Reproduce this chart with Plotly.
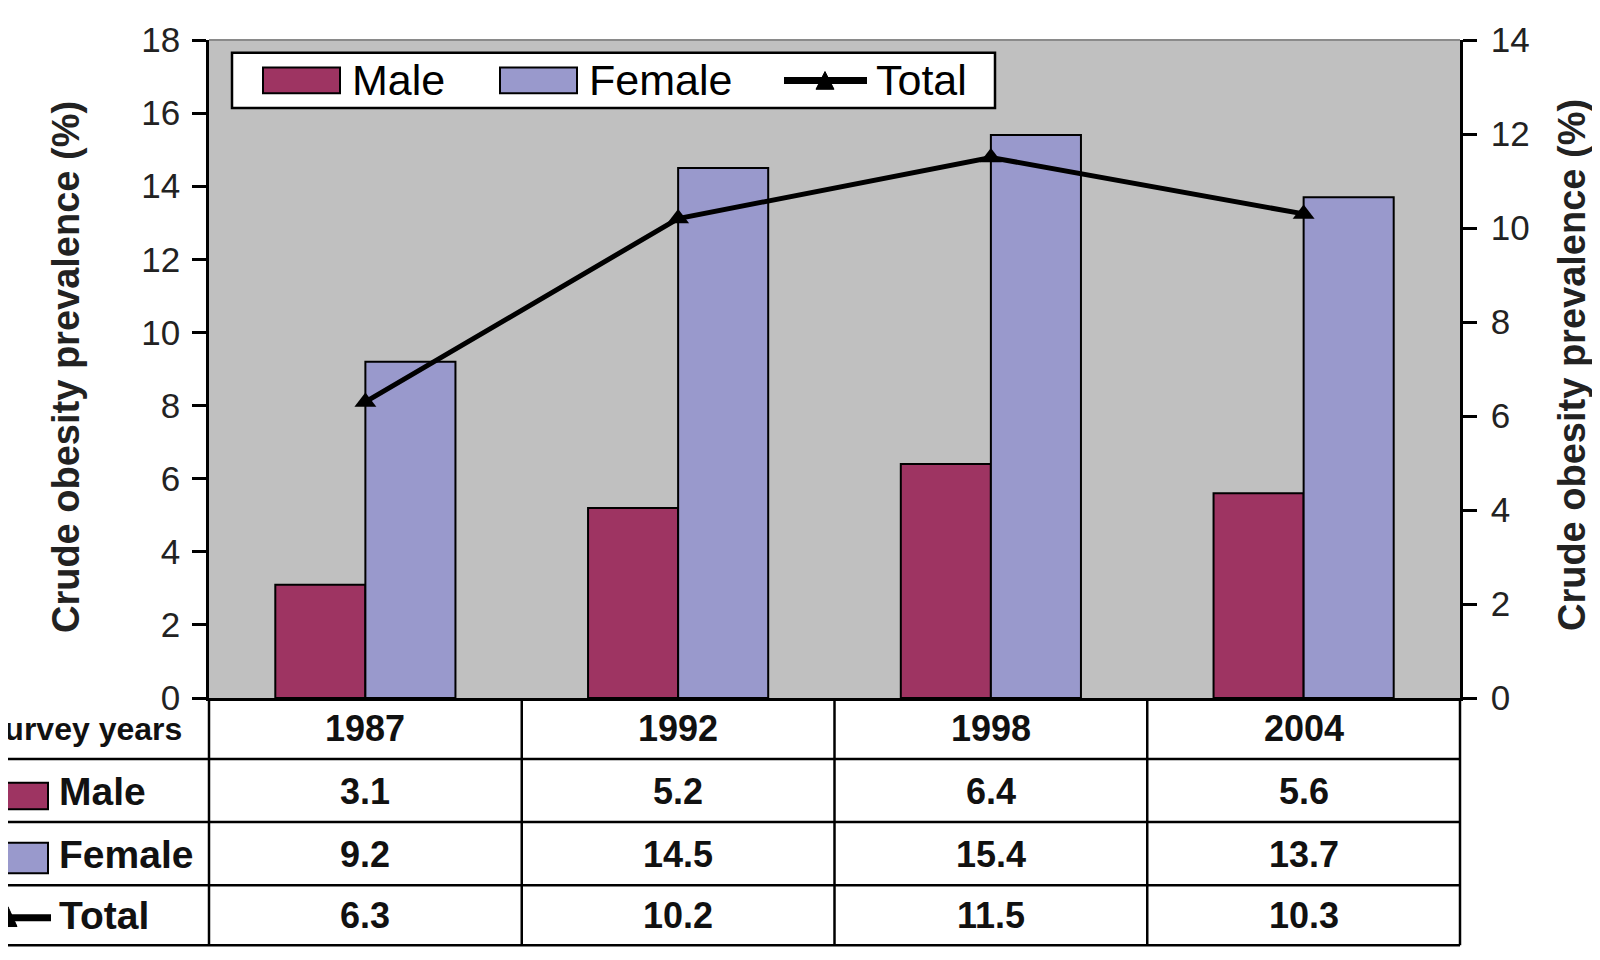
import plotly.graph_objects as go

# data
years = ['1987', '1992', '1998', '2004']
male = [3.1, 5.2, 6.4, 5.6]
female = [9.2, 14.5, 15.4, 13.7]
total = [6.3, 10.2, 11.5, 10.3]

male_color = '#9E3462'
female_color = '#9999CC'
font_family = 'Liberation Sans, Arial, sans-serif'

# the page body keeps an 8px margin, so positions are given in page pixels
# and shifted back by OFF when turned into figure margins
OFF = 8
W, H = 1600, 960
L, R, T, B = 209, 1460, 30, 698


def px(x):
    return (x - L) / (R - L)


def py(y):
    return (B - y) / (B - T)


fig = go.Figure()

fig.add_trace(go.Bar(x=years, y=male, name='Male', marker=dict(color=male_color, line=dict(color='black', width=2))))
fig.add_trace(go.Bar(x=years, y=female, name='Female', marker=dict(color=female_color, line=dict(color='black', width=2))))
fig.add_trace(go.Scatter(x=years, y=total, name='Total', yaxis='y2', mode='lines+markers',
                         line=dict(color='black', width=5),
                         marker=dict(symbol='triangle-up', size=19, color='black')))

shapes = []
annotations = []
line_kw = dict(color='black', width=2.5)

# top edge of the plot area
shapes.append(dict(type='line', xref='paper', yref='paper', x0=0, x1=1, y0=1, y1=1,
                   line=dict(color='#8a8a8a', width=2)))

# --- custom legend box ---
shapes.append(dict(type='rect', xref='paper', yref='paper', x0=px(232), x1=px(995), y0=py(99), y1=py(43),
                   fillcolor='white', line=line_kw, layer='above'))
shapes.append(dict(type='rect', xref='paper', yref='paper', x0=px(263), x1=px(340), y0=py(84), y1=py(58),
                   fillcolor=male_color, line=dict(color='black', width=2), layer='above'))
shapes.append(dict(type='rect', xref='paper', yref='paper', x0=px(500), x1=px(577), y0=py(84), y1=py(58),
                   fillcolor=female_color, line=dict(color='black', width=2), layer='above'))
shapes.append(dict(type='line', xref='paper', yref='paper', x0=px(784), x1=px(867), y0=py(71), y1=py(71),
                   line=dict(color='black', width=7), layer='above'))
shapes.append(dict(type='path', xref='paper', yref='paper', layer='above', fillcolor='black',
                   line=dict(color='black', width=1),
                   path='M %f,%f L %f,%f L %f,%f Z' % (px(816), py(80), px(834), py(80), px(825), py(62))))
for x0, label in [(350, 'Male'), (587, 'Female'), (874, 'Total')]:
    annotations.append(dict(xref='paper', yref='paper', x=px(x0), y=py(71), text=label, showarrow=False,
                            xanchor='left', yanchor='middle', font=dict(size=43, color='black')))

# --- data table under the chart ---
row_lines = [760, 824, 888, 949]
for yy in row_lines:
    shapes.append(dict(type='line', xref='paper', yref='paper', x0=px(0), x1=1, y0=py(yy), y1=py(yy), line=line_kw))
n = len(years)
for i in range(n + 1):
    shapes.append(dict(type='line', xref='paper', yref='paper', x0=i / n, x1=i / n, y0=py(698), y1=py(949),
                       line=line_kw))

row_centers = [729, 793, 857, 919]
cell_font = dict(size=36, color='#111', family=font_family)
for j, yr in enumerate(years):
    for yc, txt in zip(row_centers, [yr, male[j], female[j], total[j]]):
        annotations.append(dict(xref='paper', yref='paper', x=(j + 0.5) / n, y=py(yc), text='<b>%s</b>' % txt,
                                showarrow=False, xanchor='center', yanchor='middle', font=cell_font))

annotations.append(dict(xref='paper', yref='paper', x=px(184), y=py(729), text='<b>Survey years</b>',
                        showarrow=False, xanchor='right', yanchor='middle', font=dict(size=32, color='#111')))
# row keys in the left column
shapes.append(dict(type='rect', xref='paper', yref='paper', x0=px(-10), x1=px(48), y0=py(811), y1=py(784),
                   fillcolor=male_color, line=dict(color='black', width=2)))
shapes.append(dict(type='rect', xref='paper', yref='paper', x0=px(-10), x1=px(48), y0=py(876), y1=py(845),
                   fillcolor=female_color, line=dict(color='black', width=2)))
shapes.append(dict(type='line', xref='paper', yref='paper', x0=px(0), x1=px(51), y0=py(921), y1=py(921),
                   line=dict(color='black', width=7)))
shapes.append(dict(type='path', xref='paper', yref='paper', fillcolor='black', line=dict(color='black', width=1),
                   path='M %f,%f L %f,%f L %f,%f Z' % (px(-1), py(930), px(17), py(930), px(8), py(910))))
for yc, label in zip(row_centers[1:], ['Male', 'Female', 'Total']):
    annotations.append(dict(xref='paper', yref='paper', x=px(57), y=py(yc), text='<b>%s</b>' % label,
                            showarrow=False, xanchor='left', yanchor='middle', font=dict(size=39, color='#111')))

# axis titles
title_text = '<b>Crude obesity prevalence (%)</b>'
annotations.append(dict(xref='paper', yref='paper', x=px(66), y=py(362), text=title_text, textangle=-90,
                        showarrow=False, xanchor='center', yanchor='middle', font=dict(size=38, color='#222')))
annotations.append(dict(xref='paper', yref='paper', x=px(1572), y=py(360), text=title_text, textangle=-90,
                        showarrow=False, xanchor='center', yanchor='middle', font=dict(size=38, color='#222')))

tick_font = dict(size=35, color='#222', family=font_family)
fig.update_layout(
    width=W, height=H,
    margin=dict(l=L - OFF, r=W - (R - OFF), t=T - OFF, b=H - (B - OFF)),
    paper_bgcolor='white',
    plot_bgcolor='#C0C0C0',
    font=dict(family=font_family),
    showlegend=False,
    barmode='group',
    bargap=0.424,
    bargroupgap=0,
    xaxis=dict(type='category', showticklabels=False, ticks='', showline=True, linecolor='black', linewidth=2.5,
               showgrid=False, zeroline=False, range=[-0.5, 3.5]),
    yaxis=dict(range=[0, 18], dtick=2, ticks='outside', ticklen=14, tickwidth=2.5, tickcolor='black',
               showline=True, linecolor='black', linewidth=2.5, showgrid=False, zeroline=False,
               tickfont=tick_font, ticklabelstandoff=5),
    yaxis2=dict(range=[0, 14], dtick=2, overlaying='y', side='right', ticks='outside', ticklen=14, tickwidth=2.5,
                tickcolor='black', showline=True, linecolor='black', linewidth=2.5, showgrid=False,
                zeroline=False, tickfont=tick_font, ticklabelstandoff=7),
    shapes=shapes,
    annotations=annotations,
)

fig.write_html('out.html')
